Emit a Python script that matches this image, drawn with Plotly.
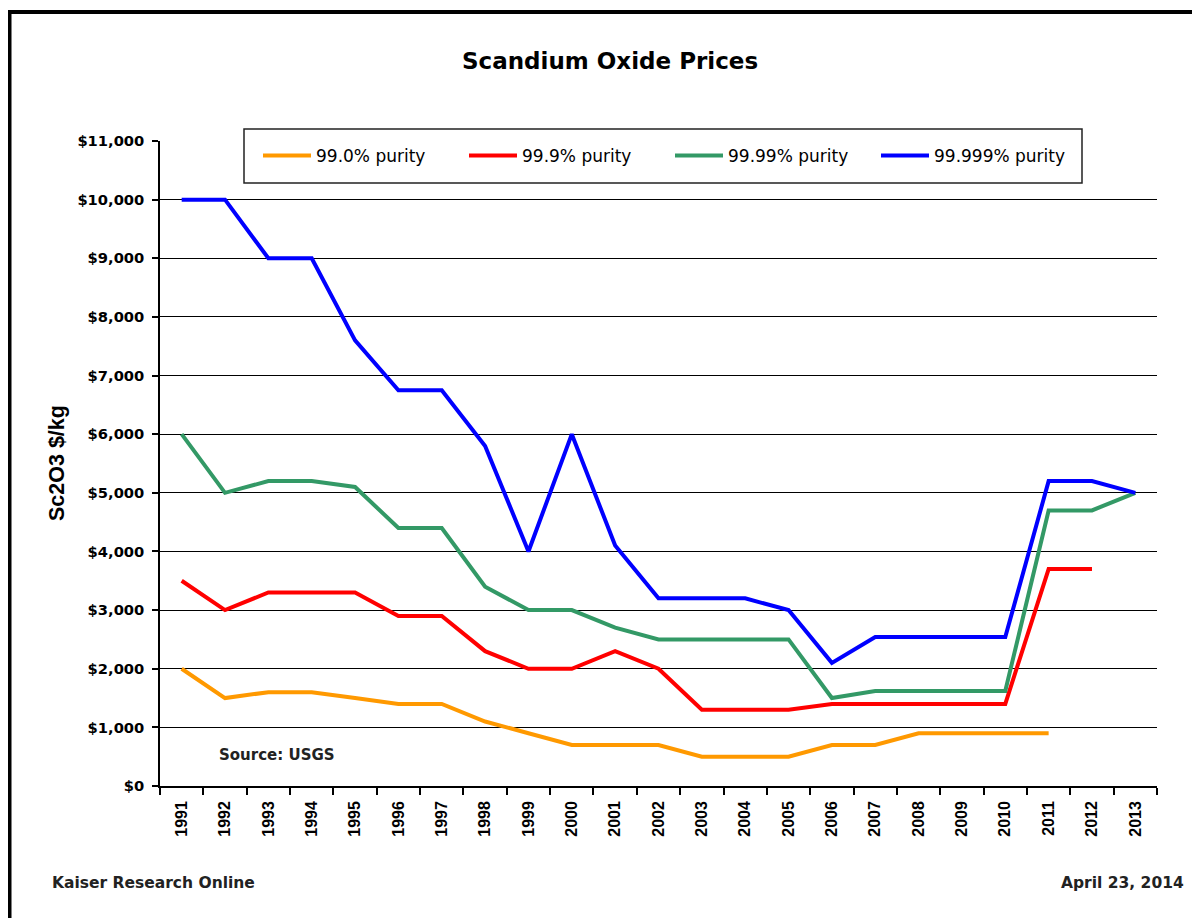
import plotly.graph_objects as go

years = [str(y) for y in range(1991, 2014)]
p990 = [2000, 1500, 1600, 1600, 1500, 1400, 1400, 1100, 900, 700, 700, 700, 500, 500, 500, 700, 700, 900, 900, 900, 900, None, None]
p999 = [3500, 3000, 3300, 3300, 3300, 2900, 2900, 2300, 2000, 2000, 2300, 2000, 1300, 1300, 1300, 1400, 1400, 1400, 1400, 1400, 3700, 3700, None]
p9999 = [6000, 5000, 5200, 5200, 5100, 4400, 4400, 3400, 3000, 3000, 2700, 2500, 2500, 2500, 2500, 1500, 1620, 1620, 1620, 1620, 4700, 4700, 5000]
p99999 = [10000, 10000, 9000, 9000, 7600, 6750, 6750, 5800, 4000, 6000, 4100, 3200, 3200, 3200, 3000, 2100, 2540, 2540, 2540, 2540, 5200, 5200, 5000]

series = [
    ("99.0% purity", p990, "#FF9900"),
    ("99.9% purity", p999, "#FF0000"),
    ("99.99% purity", p9999, "#339966"),
    ("99.999% purity", p99999, "#0000FF"),
]

fig = go.Figure()
for name, vals, col in series:
    fig.add_trace(go.Scatter(x=years, y=vals, name=name, mode="lines",
                             line=dict(color=col, width=4), connectgaps=False))

# page body has an 8px margin; work in screen pixels
OFF = 8
W, H = 1200, 918
PL, PR, PT, PB = 160, 1157, 141, 786  # plot area in screen px
L, T = PL - OFF, PT - OFF
R, B = W - (PR - OFF), H - (PB - OFF)
pw, ph = PR - PL, PB - PT


def px(x):
    return (x - PL) / pw


def py(y):
    return (PB - y) / ph


wide = "DejaVu Sans"
arial = "Liberation Sans"
fig.update_layout(
    width=W, height=H,
    margin=dict(l=L, r=R, t=T, b=B),
    paper_bgcolor="white", plot_bgcolor="white",
    font=dict(family=wide, color="black"),
    showlegend=True,
    legend=dict(orientation="h", x=px(258), y=py(156), xanchor="left", yanchor="middle",
                borderwidth=0, bgcolor="rgba(0,0,0,0)",
                font=dict(size=17, family=wide, color="black"),
                entrywidth=143, entrywidthmode="pixels", itemwidth=48),
    xaxis=dict(type="category", range=[-0.5, 22.5], tickson="boundaries",
               ticks="outside", ticklen=7, tickcolor="black", tickwidth=1.5,
               showline=True, linecolor="black", linewidth=1.5, showgrid=False,
               tickangle=-90, ticklabelstandoff=7,
               tickfont=dict(size=16, family=arial, weight="bold")),
    yaxis=dict(range=[0, 11000], dtick=1000, tickprefix="$", tickformat=",d",
               ticks="outside", ticklen=6, tickcolor="black", tickwidth=1.5,
               ticklabelstandoff=5,
               showline=True, linecolor="black", linewidth=1.5, showgrid=True,
               gridcolor="black", gridwidth=1, zeroline=False,
               tickfont=dict(size=14.7, family=wide, weight="bold")),
)

# title
fig.add_annotation(text="<b>Scandium Oxide Prices</b>", x=px(610), y=py(61), xref="paper", yref="paper",
                   xanchor="center", yanchor="middle", showarrow=False,
                   font=dict(size=23, family=wide, color="black"))
# y axis title
fig.add_annotation(text="<b>Sc2O3 $/kg</b>", x=px(57), y=py(463), xref="paper", yref="paper",
                   xanchor="center", yanchor="middle", showarrow=False, textangle=-90,
                   font=dict(size=21.5, family=arial, color="black"))
fig.add_annotation(text="<b>Source: USGS</b>", x=px(217), y=py(755), xref="paper", yref="paper",
                   xanchor="left", yanchor="middle", showarrow=False,
                   font=dict(size=15, family=wide, color="#222"))
fig.add_annotation(text="<b>Kaiser Research Online</b>", x=px(50), y=py(883), xref="paper", yref="paper",
                   xanchor="left", yanchor="middle", showarrow=False,
                   font=dict(size=15.5, family=wide, color="#222"))
fig.add_annotation(text="<b>April 23, 2014</b>", x=px(1186), y=py(883), xref="paper", yref="paper",
                   xanchor="right", yanchor="middle", showarrow=False,
                   font=dict(size=15.5, family=wide, color="#222"))

# legend box
fig.add_shape(type="rect", xref="paper", yref="paper",
              x0=px(244), x1=px(1082), y0=py(183), y1=py(129),
              line=dict(color="#222", width=1.5), fillcolor="white", layer="above")
# outer frame
fig.add_shape(type="rect", xref="paper", yref="paper",
              x0=px(9.5), x1=px(1240), y0=py(960), y1=py(12),
              line=dict(color="black", width=4), layer="above")

fig.write_html("out.html")
